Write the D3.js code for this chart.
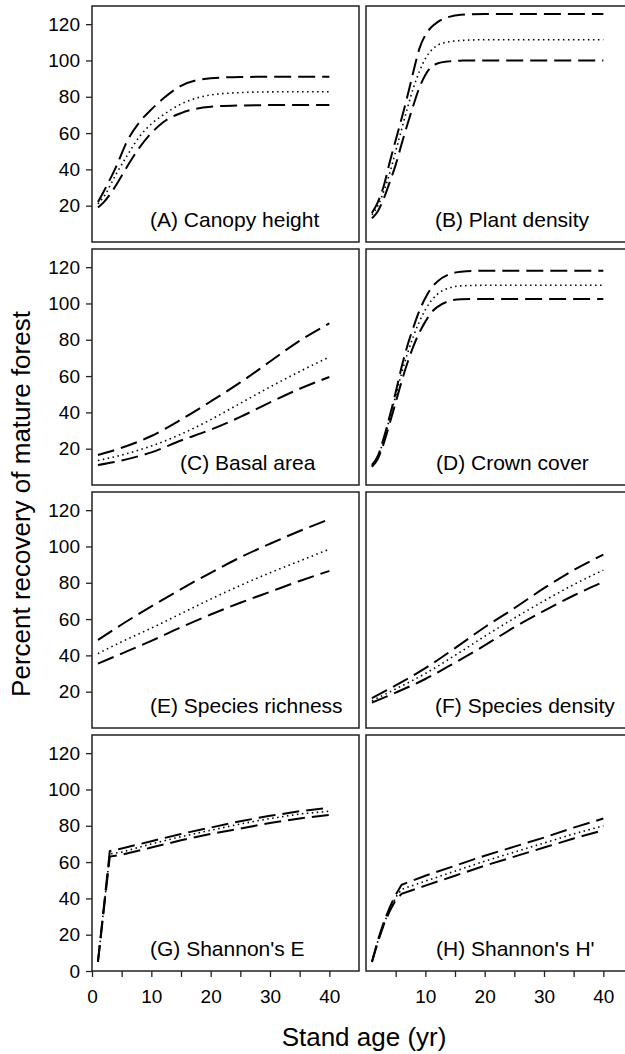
<!DOCTYPE html>
<html>
<head>
<meta charset="utf-8">
<script src="https://cdn.jsdelivr.net/npm/d3@7"></script>
<style>
  html, body { margin: 0; padding: 0; background: #fff; }
  svg { display: block; font-family: "Liberation Sans", Arial, Helvetica, sans-serif; }
</style>
</head>
<body>
<svg id="chart" width="625" height="1054"></svg>
<script>
// ---- Recovery curves: upper bound, mean, lower bound (% of mature forest) ----

// (A) Canopy height
const canopyAge   = [1, 2, 4, 6, 8, 10, 12, 15, 20, 25, 30, 35, 40];
const canopyUpper = [22, 28, 41, 56, 66, 73, 79, 86, 90.2, 90.9, 91, 91, 91];
const canopyMean  = [21, 25, 37, 48, 58, 65, 70, 76, 81, 82.3, 82.7, 82.8, 82.8];
const canopyLower = [19, 22, 31, 42, 52, 60, 66, 71, 74.5, 75.2, 75.4, 75.4, 75.4];

// (B) Plant density
const plantAge   = [1, 2, 3, 4, 5, 6, 7, 8, 9, 10, 11, 12, 14, 16, 20, 25, 30, 40];
const plantUpper = [16, 22, 31, 44, 56, 68, 80.5, 94, 106.5, 114, 118.3, 121, 124, 125.2, 125.6, 125.6, 125.6, 125.6];
const plantMean  = [15, 20, 28, 38, 50, 62, 74, 85, 94, 101, 105.5, 108.3, 110.3, 111, 111.4, 111.4, 111.4, 111.4];
const plantLower = [13, 17, 24, 33, 42.5, 54, 65, 75.5, 85, 92, 96.5, 98.3, 99.5, 99.9, 100, 100, 100, 100];

// (C) Basal area
const basalAge   = [1, 5, 10, 15, 20, 25, 30, 35, 40];
const basalUpper = [16.5, 20.5, 27, 36, 46, 56.5, 68, 79.5, 89];
const basalMean  = [13.5, 16.5, 21.5, 28, 36, 45, 54, 62.5, 70.5];
const basalLower = [11, 13.5, 18, 24.5, 30.5, 37.5, 45.5, 53, 59.5];

// (D) Crown cover
const crownAge   = [1, 2, 3, 4, 5, 6, 7, 8, 9, 10, 11, 12, 14, 16, 20, 30, 40];
const crownUpper = [11, 16, 26, 38, 51, 65, 77, 87, 96, 103, 108.5, 112, 116, 117.5, 118, 118, 118];
const crownMean  = [10.5, 15.5, 25, 37, 49, 61.5, 72.5, 82, 90, 96.5, 101.5, 105, 108.5, 109.7, 110, 110, 110];
const crownLower = [10, 14.5, 23, 34, 45.5, 57, 67.5, 76.5, 84, 90, 95, 98, 101.3, 102.3, 102.5, 102.5, 102.5];

// (E) Species richness
const richnessAge   = [1, 5, 10, 15, 20, 25, 30, 35, 40];
const richnessUpper = [48.5, 57, 67, 76.5, 85.5, 94, 101.5, 108.5, 115];
const richnessMean  = [41, 47.5, 55, 63, 71, 78.5, 85.5, 92, 98.5];
const richnessLower = [35.5, 41, 48, 55.5, 62.5, 69, 75, 81, 86.5];

// (F) Species density
const spDensityAge   = [1, 5, 10, 15, 20, 25, 30, 35, 40];
const spDensityUpper = [16.5, 23.5, 33, 44, 55.5, 66, 77, 87, 95.5];
const spDensityMean  = [15, 21.5, 30, 40, 50.5, 60.5, 70, 79, 87];
const spDensityLower = [14, 19.5, 27, 36, 45.5, 55.5, 64.5, 73, 80.5];

// (G) Shannon's E
const evennessAge   = [1, 3, 5, 10, 15, 20, 25, 30, 35, 40];
const evennessUpper = [5, 66, 67.5, 71.5, 75.5, 79, 82.5, 85.5, 88, 90];
const evennessMean  = [5, 64.5, 65.5, 70, 74, 77.5, 81, 84, 86.5, 88];
const evennessLower = [5, 63, 64, 68, 72, 75.5, 78.5, 81.5, 84, 86];

// (H) Shannon's H'
const diversityAge   = [1, 2, 3, 4, 5, 6, 10, 15, 20, 25, 30, 35, 40];
const diversityUpper = [5, 17, 27, 35, 42, 47.5, 52.5, 58, 63.5, 68.5, 73.5, 79, 84];
const diversityMean  = [5, 16.5, 26, 34, 40.5, 45, 49.5, 55, 60.5, 65.5, 70.5, 75.5, 80];
const diversityLower = [5, 16, 25.5, 33, 39, 42.5, 47, 52.5, 58, 63, 68, 73, 77.5];

// Axis ticks
const yTicks       = [20, 40, 60, 80, 100, 120];
const yTicksBottom = [0, 20, 40, 60, 80, 100, 120];
const xTicksLeft   = [0, 5, 10, 15, 20, 25, 30, 35, 40];
const xTicksRight  = [5, 10, 15, 20, 25, 30, 35, 40];

const panelLabels = ["(A) Canopy height", "(B) Plant density", "(C) Basal area", "(D) Crown cover",
                     "(E) Species richness", "(F) Species density", "(G) Shannon's E", "(H) Shannon's H'"];

const panels = [
  { age: canopyAge,    upper: canopyUpper,    mean: canopyMean,    lower: canopyLower },
  { age: plantAge,     upper: plantUpper,     mean: plantMean,     lower: plantLower },
  { age: basalAge,     upper: basalUpper,     mean: basalMean,     lower: basalLower },
  { age: crownAge,     upper: crownUpper,     mean: crownMean,     lower: crownLower },
  { age: richnessAge,  upper: richnessUpper,  mean: richnessMean,  lower: richnessLower },
  { age: spDensityAge, upper: spDensityUpper, mean: spDensityMean, lower: spDensityLower },
  { age: evennessAge,  upper: evennessUpper,  mean: evennessMean,  lower: evennessLower },
  { age: diversityAge, upper: diversityUpper, mean: diversityMean, lower: diversityLower }
].map((p, i) => Object.assign(p, { label: panelLabels[i] }));

// ---- Layout ----
const W = 625, H = 1054;
const colLeft = [92, 366];
const rowTop = [6, 249, 492, 735];
const pw = 267, ph = 236;
const labelOffset = [58, 69, 88, 70, 58, 69, 58, 70];

const x = d3.scaleLinear().domain([0, 45]).range([0, pw]);
const y = d3.scaleLinear().domain([0, 130]).range([ph, 0]);

const svg = d3.select("#chart");
svg.append("rect").attr("width", W).attr("height", H).attr("fill", "#fff");

const styles = {
  dash: { dasharray: "17 7", width: 2 },
  dot:  { dasharray: "1.5 3.5", width: 1.6 }
};

panels.forEach((p, i) => {
  const col = i % 2, row = Math.floor(i / 2);
  const g = svg.append("g").attr("transform", `translate(${colLeft[col]},${rowTop[row]})`);

  const line = d3.line()
    .x(d => x(d[0]))
    .y(d => y(d[1]))
    .curve(row === 3 ? d3.curveLinear : d3.curveMonotoneX);

  [[p.upper, "dash"], [p.mean, "dot"], [p.lower, "dash"]].forEach(([vals, kind]) => {
    const pts = p.age.map((a, k) => [a, vals[k]]);
    g.append("path")
      .attr("d", line(pts))
      .attr("fill", "none")
      .attr("stroke", "#000")
      .attr("stroke-width", styles[kind].width)
      .attr("stroke-dasharray", styles[kind].dasharray);
  });

  // panel frame
  g.append("rect")
    .attr("width", pw).attr("height", ph)
    .attr("fill", "none").attr("stroke", "#222").attr("stroke-width", 1.5);

  // panel label
  g.append("text")
    .attr("x", labelOffset[i]).attr("y", ph - 15)
    .attr("font-size", 21).attr("fill", "#000")
    .text(p.label);

  if (col === 0) {
    const ax = g.append("g").call(
      d3.axisLeft(y).tickValues(row === 3 ? yTicksBottom : yTicks).tickSize(6).tickPadding(6)
    );
    ax.select(".domain").remove();
    ax.selectAll("line").attr("stroke", "#222").attr("stroke-width", 1.3);
    ax.selectAll("text").attr("font-size", 19).attr("fill", "#000")
      .attr("font-family", '"Liberation Sans", Arial, sans-serif');
  }

  if (row === 3) {
    const ax = g.append("g").attr("transform", `translate(0,${ph})`).call(
      d3.axisBottom(x).tickValues(col === 0 ? xTicksLeft : xTicksRight)
        .tickFormat(d => d % 10 === 0 ? d : "").tickSize(6).tickPadding(13)
    );
    ax.select(".domain").remove();
    ax.selectAll("line").attr("stroke", "#222").attr("stroke-width", 1.3);
    ax.selectAll("text").attr("font-size", 19).attr("fill", "#000")
      .attr("font-family", '"Liberation Sans", Arial, sans-serif');
  }
});

// axis titles
svg.append("text")
  .attr("transform", "translate(30,504) rotate(-90)")
  .attr("text-anchor", "middle")
  .attr("font-size", 26).attr("fill", "#000")
  .text("Percent recovery of mature forest");

svg.append("text")
  .attr("x", 364).attr("y", 1046)
  .attr("text-anchor", "middle")
  .attr("font-size", 26).attr("fill", "#000")
  .text("Stand age (yr)");
</script>
</body>
</html>
